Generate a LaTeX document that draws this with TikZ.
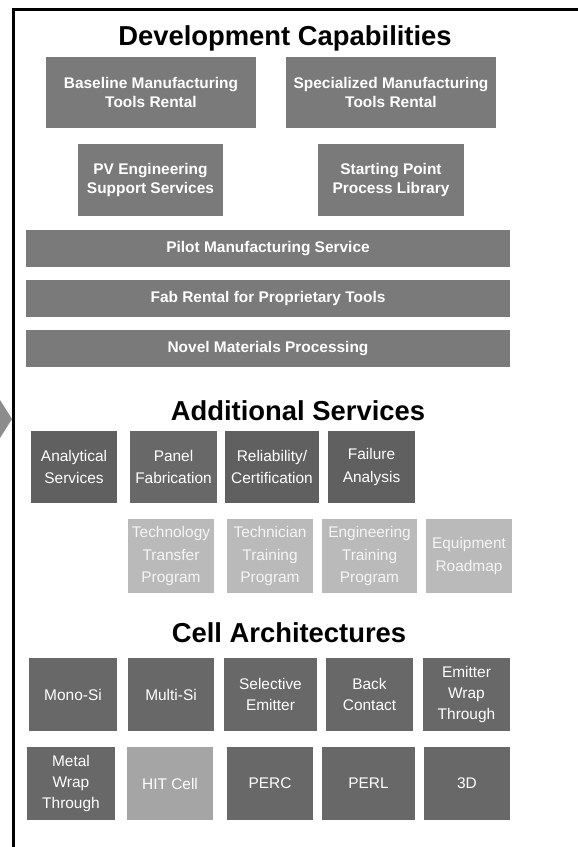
\documentclass[tikz,border=0pt]{standalone}
\usepackage{fontspec}
\setmainfont{Liberation Sans}
\usepackage{xcolor}
\usepackage{tikz}
\usetikzlibrary{positioning}
\definecolor{devgray}{RGB}{122,122,122}
\definecolor{darkgray}{RGB}{104,104,104}
\definecolor{stripegray}{RGB}{96,96,96}
\definecolor{palegray}{RGB}{186,186,186}
\definecolor{hitgray}{RGB}{165,165,165}
\definecolor{arrowgray}{RGB}{140,140,140}

\begin{document}
\begin{tikzpicture}[x=1bp,y=-1bp,
heading/.style={anchor=base,font=\fontsize{27.5}{32}\selectfont\bfseries},
devbox/.style={fill=devgray,text=white,inner sep=0,align=center,minimum height=71bp,
  font=\fontsize{15.5}{19}\selectfont\bfseries},
bar/.style={devbox,minimum width=484bp,minimum height=37bp},
servbox/.style={fill=darkgray,text=white,inner sep=0,align=center,minimum height=72bp,
  font=\fontsize{15.5}{23}\selectfont},
stripebox/.style={servbox,fill=stripegray},
palebox/.style={servbox,fill=palegray,text=white!92!gray,minimum height=74bp},
cellbox/.style={servbox,minimum height=73bp,font=\fontsize{15.5}{21}\selectfont},
hitbox/.style={cellbox,fill=hitgray}]
\useasboundingbox (0,0) rectangle (578,847);
\draw[line width=3bp] (13,847)--(13,9)--(578,9);
\fill[arrowgray] (0,400)--(12,419)--(0,438)--cycle;

\node[heading] (devtitle) at (285,45) {Development Capabilities};
\node[devbox,minimum width=210bp] (baseline) at (151,92.5) {Baseline Manufacturing\\Tools Rental};
\node[devbox,minimum width=210bp] (special) at (391,92.5) {Specialized Manufacturing\\Tools Rental};
\node[devbox,minimum width=145bp,minimum height=72bp] (pveng) at (150.5,180) {PV Engineering\\Support Services};
\node[devbox,minimum width=146bp,minimum height=72bp] (library) at (391,180) {Starting Point\\Process Library};
\node[bar] (pilot) at (268,248.5) {Pilot Manufacturing Service};
\node[bar] (fabrental) at (268,298.5) {Fab Rental for Proprietary Tools};
\node[bar] (novel) at (268,348.5) {Novel Materials Processing};

\node[heading] (servtitle) at (298,420) {Additional Services};
\node[stripebox,minimum width=86bp] (analytical) at (74,467) {Analytical\\Services};
\node[servbox,minimum width=87bp] (panel) at (173.5,467) {Panel\\Fabrication};
\node[stripebox,minimum width=94bp] (reliability) at (272,467) {Reliability/\\Certification};
\node[stripebox,minimum width=87bp] (failure) at (371.5,467) {Failure\\Analysis};
\node[palebox,minimum width=86bp] (transfer) at (171,556) {Technology\\Transfer\\Program};
\node[palebox,minimum width=86bp] (technician) at (270,556) {Technician\\Training\\Program};
\node[palebox,minimum width=95bp] (engtrain) at (369.5,556) {Engineering\\Training\\Program};
\node[palebox,minimum width=86bp] (roadmap) at (469,556) {Equipment\\Roadmap};

\node[heading] (celltitle) at (289,642) {Cell Architectures};
\node[cellbox,minimum width=88bp] (mono) at (73,694.5) {Mono-Si};
\node[cellbox,minimum width=86bp] (multi) at (171,694.5) {Multi-Si};
\node[cellbox,minimum width=93bp] (selective) at (270.5,694.5) {Selective\\Emitter};
\node[cellbox,minimum width=87bp] (backcontact) at (369.5,694.5) {Back\\Contact};
\node[cellbox,minimum width=87bp] (ewt) at (466.5,694.5) {Emitter\\Wrap\\Through};
\node[cellbox,minimum width=88bp] (mwt) at (71,783.5) {Metal\\Wrap\\Through};
\node[hitbox,minimum width=86bp] (hit) at (170,783.5) {HIT Cell};
\node[cellbox,minimum width=86bp] (perc) at (270,783.5) {PERC};
\node[cellbox,minimum width=93bp] (perl) at (368.5,783.5) {PERL};
\node[cellbox,minimum width=86bp] (threed) at (467,783.5) {3D};
\end{tikzpicture}
\end{document}
